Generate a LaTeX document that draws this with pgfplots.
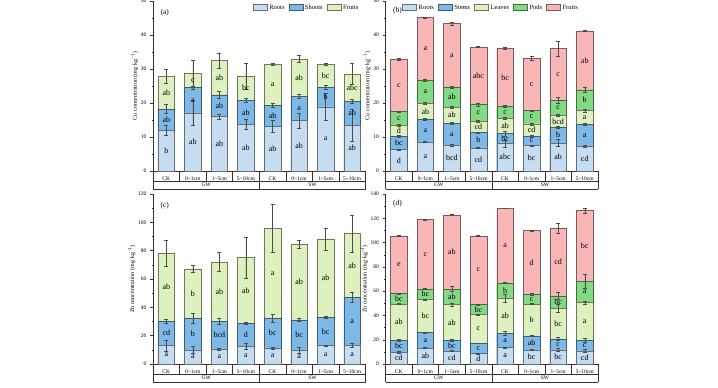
\documentclass[border=0pt]{standalone}
\usepackage{pgfplots}
\pgfplotsset{compat=1.18}
\usepackage{pgfplotstable}
\usepackage{fontspec}
\setmainfont{Liberation Serif}

\definecolor{cR}{HTML}{C6DCF0}
\definecolor{cS}{HTML}{7DB8E6}
\definecolor{cL}{HTML}{DDF0BD}
\definecolor{cP}{HTML}{84DA84}
\definecolor{cF}{HTML}{F9B6B6}

% panel (a): Cu, cumulative tops
\pgfplotstableread{
x R S F eR eS eF lR lS lF
0 12.0 18.2 27.8 1.6 1.3 2.1 b ab ab
1 17.1 24.5 28.8 3.6 0.5 3.8 ab a c
2 16.0 22.4 32.5 0.8 1.1 2.2 ab ab ab
3 13.7 20.8 28.0 1.5 0.5 3.8 ab ab bc
4 13.2 19.3 31.4 1.8 0.5 0.2 ab ab a
5 14.8 22.0 33.0 2.2 0.5 1.1 ab a ab
6 18.9 24.6 31.3 3.9 0.5 0.3 a b bc
7 13.5 20.5 28.6 4.7 0.6 3.2 ab ab abc
}\tabA
% panel (b): Cu
\pgfplotstableread{
x R S L P F eR eS eL eP eF lR lS lL lP lF
0 6.3 10.2 13.5 17.5 32.8 0.2 0.2 0.2 0.2 0.3 d bc d c c
1 8.6 15.1 19.8 26.6 45.1 0.2 0.3 0.3 0.3 0.2 a a ab a a
2 7.5 14.1 18.8 24.7 43.4 0.3 0.3 0.3 0.3 0.4 bcd a ab ab a
3 6.8 11.3 14.6 19.5 36.5 0.2 0.2 0.2 0.3 0.2 cd b cd c abc
4 8.1 11.0 15.4 19.1 36.0 1.0 0.8 0.3 0.3 0.3 abc bc ab c bc
5 7.5 10.2 13.9 17.8 33.2 0.2 0.3 0.3 0.2 0.5 bc c cd c c
6 8.3 12.8 16.4 20.8 36.0 1.0 0.3 0.3 0.8 2.2 ab b bcd c c
7 7.3 13.7 17.8 23.9 41.2 0.4 0.3 0.5 0.6 0.2 cd a a b ab
}\tabB
% panel (c): Zn
\pgfplotstableread{
x R S F eR eS eF lR lS lF
0 13.1 30.3 78.2 3.9 1.5 9.2 a cd ab
1 9.9 32.2 67.1 2.5 3.5 2.3 a b b
2 10.6 30.3 72.1 0.8 2.3 6.6 a bcd ab
3 12.4 28.9 75.1 2.2 0.5 14.7 a d ab
4 11.3 32.2 95.8 0.8 3.0 16.8 a bc a
5 9.9 31.2 84.5 2.0 1.0 2.6 a bc ab
6 12.9 32.9 88.3 0.6 0.8 7.8 a bc ab
7 13.1 46.9 92.0 1.5 3.6 13.0 a a ab
}\tabC
% panel (d): Zn
\pgfplotstableread{
x R S L P F eR eS eL eP eF lR lS lL lP lF
0 9.8 19.6 49.4 58.1 105.6 0.5 0.5 0.5 0.5 0.3 cd bc ab bc e
1 13.1 25.9 53.2 61.7 119.0 0.5 0.5 0.5 0.5 0.3 ab a bc bc c
2 10.9 19.6 49.1 61.7 122.8 0.5 0.5 1.2 2.0 0.5 cd bc ab ab ab
3 8.7 17.2 40.9 49.1 105.6 0.3 0.3 0.5 0.5 0.3 d c c bc c
4 13.6 25.4 54.0 66.8 128.2 0.5 2.0 3.5 0.5 0.3 a a ab b a
5 11.7 23.2 49.4 57.3 110.0 0.3 0.3 0.5 0.8 0.3 bc ab b c d
6 11.7 20.7 45.8 56.2 112.1 1.2 1.2 3.5 3.0 4.2 bc c bc bc cd
7 10.9 19.6 50.8 68.2 126.3 1.0 1.5 1.2 6.0 1.8 cd c a a bc
}\tabD

\tikzset{tbl/.style={line width=0.5pt, black!80}}

\pgfplotsset{
  panel/.style={
    scale only axis, width=212.5pt, height=170pt,
    xmin=-0.5, xmax=7.5, ymin=0,
    axis y line*=left, axis x line*=bottom,
    axis line style={line width=0.5pt, black!80},
    xtick={0,...,7},
    xticklabels={CK,0\textasciitilde 1cm,1\textasciitilde 5cm,5\textasciitilde 10cm,CK,0\textasciitilde 1cm,1\textasciitilde 5cm,5\textasciitilde 10cm},
    major x tick style={draw=none},
    xticklabel style={font=\fontsize{5.5}{6}\selectfont, anchor=center, yshift=-5pt},
    yticklabel style={font=\fontsize{5.5}{6}\selectfont},
    /pgf/number format/assume math mode=true,
    tick align=outside, major tick length=3pt, minor tick length=1.5pt,
    minor y tick num=1,
    y tick style={line width=0.4pt, black!80},
    ylabel style={font=\fontsize{6}{7}\selectfont},
    ylabel shift=-4pt,
    clip=false,
    legend style={draw=none, fill=none, at={(1,1)}, anchor=north east,
      legend columns=-1, font=\fontsize{6.5}{7}\selectfont, inner sep=0pt,
      /tikz/every even column/.append style={column sep=2pt}},
  },
  seg/.style={ybar, bar width=0.625, bar shift=0pt, fill=#1, draw=#1!50!black,
    line width=0.45pt, forget plot,
    error bars/.cd, y dir=both, y explicit,
    error bar style={line width=0.4pt, black!70},
    error mark options={rotate=90, mark size=2pt, line width=0.4pt, black!70}},
  lab/.style={forget plot, draw=none, mark=none, nodes near coords,
    point meta=explicit symbolic, nodes near coords align={center},
    every node near coord/.append style={font=\fontsize{8}{9}\selectfont, inner sep=0pt, black}},
  leg/.style={legend image code/.code={\draw[##1] (0pt,-3pt) rectangle (14pt,3pt);},
    fill=#1, draw=#1!50!black, line width=0.45pt},
}

\newcommand{\grouptable}{%
  \pgfplotsinvokeforeach{0.5,1.5,2.5,4.5,5.5,6.5}{\draw[tbl] (axis cs:##1,0) -- ++(0pt,-10pt);}
  \pgfplotsinvokeforeach{-0.5,3.5,7.5}{\draw[tbl] (axis cs:##1,0) -- ++(0pt,-18pt);}
  \draw[tbl] ([yshift=-10pt]axis cs:-0.5,0) -- ([yshift=-10pt]axis cs:7.5,0);
  \draw[tbl] ([yshift=-18pt]axis cs:-0.5,0) -- ([yshift=-18pt]axis cs:7.5,0);
  \node[font=\fontsize{5.5}{6}\selectfont] at ([yshift=-14pt]axis cs:1.5,0) {GW};
  \node[font=\fontsize{5.5}{6}\selectfont] at ([yshift=-14pt]axis cs:5.5,0) {SW};
}

\begin{document}
\begin{tikzpicture}
\useasboundingbox[fill=white] (0pt,0pt) rectangle (718pt,388pt);

% ---------- (a) ----------
\begin{axis}[panel, at={(153pt,217pt)}, anchor=south west,
  ymax=50, ytick={0,10,...,50},
  ylabel={Cu concentration (mg·kg\textsuperscript{−1})},
  legend style={xshift=-5pt, yshift=-1.5pt}]
\addlegendimage{leg=cR}\addlegendentry{Roots}
\addlegendimage{leg=cS}\addlegendentry{Shoots}
\addlegendimage{leg=cL}\addlegendentry{Fruits}
\addplot[seg=cL] table[x=x, y=F, y error=eF] {\tabA};
\addplot[seg=cS] table[x=x, y=S, y error=eS] {\tabA};
\addplot[seg=cR] table[x=x, y=R, y error=eR] {\tabA};
\addplot[lab] table[x=x, y expr={\thisrow{R}/2}, meta=lR] {\tabA};
\addplot[lab] table[x=x, y expr={(\thisrow{R}+\thisrow{S})/2}, meta=lS] {\tabA};
\addplot[lab] table[x=x, y expr={(\thisrow{S}+\thisrow{F})/2}, meta=lF] {\tabA};
\grouptable
\node[anchor=north west, font=\fontsize{7.5}{8}\selectfont] at ([xshift=4pt, yshift=-5pt]rel axis cs:0,1) {(a)};
\end{axis}

% ---------- (b) ----------
\begin{axis}[panel, at={(385.5pt,217pt)}, anchor=south west,
  ymax=50, ytick={0,10,...,50},
  ylabel={Cu concentration (mg·kg\textsuperscript{−1})},
  legend style={xshift=-18pt, yshift=-1.5pt}]
\addlegendimage{leg=cR}\addlegendentry{Roots}
\addlegendimage{leg=cS}\addlegendentry{Stems}
\addlegendimage{leg=cL}\addlegendentry{Leaves}
\addlegendimage{leg=cP}\addlegendentry{Pods}
\addlegendimage{leg=cF}\addlegendentry{Fruits}
\addplot[seg=cF] table[x=x, y=F, y error=eF] {\tabB};
\addplot[seg=cP] table[x=x, y=P, y error=eP] {\tabB};
\addplot[seg=cL] table[x=x, y=L, y error=eL] {\tabB};
\addplot[seg=cS] table[x=x, y=S, y error=eS] {\tabB};
\addplot[seg=cR] table[x=x, y=R, y error=eR] {\tabB};
\addplot[lab] table[x=x, y expr={\thisrow{R}/2}, meta=lR] {\tabB};
\addplot[lab] table[x=x, y expr={(\thisrow{R}+\thisrow{S})/2}, meta=lS] {\tabB};
\addplot[lab] table[x=x, y expr={(\thisrow{S}+\thisrow{L})/2}, meta=lL] {\tabB};
\addplot[lab] table[x=x, y expr={(\thisrow{L}+\thisrow{P})/2}, meta=lP] {\tabB};
\addplot[lab] table[x=x, y expr={(\thisrow{P}+\thisrow{F})/2}, meta=lF] {\tabB};
\grouptable
\node[anchor=north west, font=\fontsize{7.5}{8}\selectfont] at ([xshift=4pt, yshift=-3pt]rel axis cs:0,1) {(b)};
\end{axis}

% ---------- (c) ----------
\begin{axis}[panel, at={(153pt,24pt)}, anchor=south west,
  ymax=120, ytick={0,20,...,120},
  ylabel={Zn concentration (mg·kg\textsuperscript{−1})}]
\addplot[seg=cL] table[x=x, y=F, y error=eF] {\tabC};
\addplot[seg=cS] table[x=x, y=S, y error=eS] {\tabC};
\addplot[seg=cR] table[x=x, y=R, y error=eR] {\tabC};
\addplot[lab] table[x=x, y expr={\thisrow{R}/2}, meta=lR] {\tabC};
\addplot[lab] table[x=x, y expr={(\thisrow{R}+\thisrow{S})/2}, meta=lS] {\tabC};
\addplot[lab] table[x=x, y expr={(\thisrow{S}+\thisrow{F})/2}, meta=lF] {\tabC};
\grouptable
\node[anchor=north west, font=\fontsize{7.5}{8}\selectfont] at ([xshift=4pt, yshift=-5pt]rel axis cs:0,1) {(c)};
\end{axis}

% ---------- (d) ----------
\begin{axis}[panel, at={(385.5pt,24pt)}, anchor=south west,
  ymax=140, ytick={0,20,...,140},
  ylabel={Zn concentration (mg·kg\textsuperscript{−1})}]
\addplot[seg=cF] table[x=x, y=F, y error=eF] {\tabD};
\addplot[seg=cP] table[x=x, y=P, y error=eP] {\tabD};
\addplot[seg=cL] table[x=x, y=L, y error=eL] {\tabD};
\addplot[seg=cS] table[x=x, y=S, y error=eS] {\tabD};
\addplot[seg=cR] table[x=x, y=R, y error=eR] {\tabD};
\addplot[lab] table[x=x, y expr={\thisrow{R}/2}, meta=lR] {\tabD};
\addplot[lab] table[x=x, y expr={(\thisrow{R}+\thisrow{S})/2}, meta=lS] {\tabD};
\addplot[lab] table[x=x, y expr={(\thisrow{S}+\thisrow{L})/2}, meta=lL] {\tabD};
\addplot[lab] table[x=x, y expr={(\thisrow{L}+\thisrow{P})/2}, meta=lP] {\tabD};
\addplot[lab] table[x=x, y expr={(\thisrow{P}+\thisrow{F})/2}, meta=lF] {\tabD};
\grouptable
\node[anchor=north west, font=\fontsize{7.5}{8}\selectfont] at ([xshift=4pt, yshift=-3pt]rel axis cs:0,1) {(d)};
\end{axis}
\end{tikzpicture}
\end{document}
